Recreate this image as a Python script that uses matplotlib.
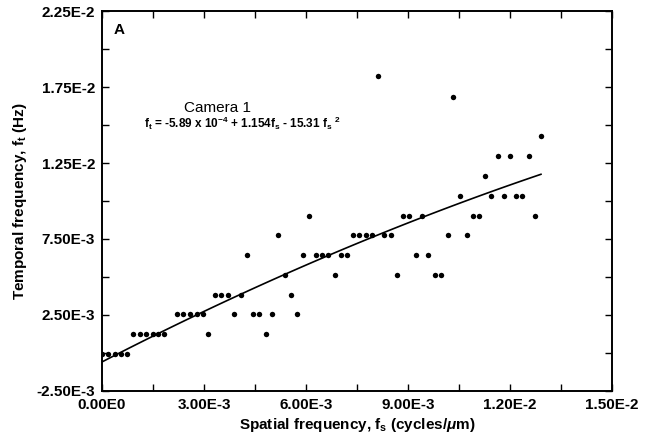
import matplotlib
matplotlib.use('Agg')
import matplotlib.pyplot as plt
import numpy as np

# spatial frequency (cycles/um) and temporal frequency (Hz), Camera 1
fs = np.array([0.00, 0.19, 0.38, 0.55, 0.74, 0.92, 1.12, 1.29, 1.49, 1.66,
               1.83, 2.21, 2.39, 2.59, 2.79, 2.96, 3.13, 3.32, 3.50, 3.70,
               3.89, 4.08, 4.26, 4.43, 4.62, 4.81, 4.99, 5.18, 5.37, 5.55,
               5.73, 5.92, 6.09, 6.29, 6.47, 6.66, 6.84, 7.02, 7.21, 7.39,
               7.57, 7.76, 7.94, 8.11, 8.30, 8.49, 8.67, 8.86, 9.04, 9.23,
               9.41, 9.60, 9.79, 9.97, 10.17, 10.33, 10.54, 10.73, 10.90, 11.09,
               11.27, 11.45, 11.64, 11.82, 12.01, 12.18, 12.36, 12.55, 12.74, 12.91]) * 1e-3
ft = np.array([-0.08, -0.08, -0.08, -0.08, -0.08, 1.22, 1.22, 1.22, 1.22, 1.22,
               1.22, 2.55, 2.55, 2.55, 2.55, 2.55, 1.22, 3.82, 3.82, 3.82,
               2.55, 3.82, 6.45, 2.55, 2.55, 1.22, 2.55, 7.74, 5.10, 3.82,
               2.55, 6.45, 9.03, 6.45, 6.45, 6.45, 5.10, 6.45, 6.45, 7.74,
               7.74, 7.74, 7.74, 18.22, 7.74, 7.74, 5.10, 9.03, 9.03, 6.45,
               9.03, 6.45, 5.10, 5.10, 7.74, 16.86, 10.35, 7.74, 9.03, 9.03,
               11.66, 10.35, 12.96, 10.35, 12.96, 10.35, 10.35, 12.96, 9.03, 14.28]) * 1e-3

# fit coefficients: ft = a + b*fs + c*fs^2
a, b, c = -5.89e-4, 1.154, -15.31
fit_max = 12.91e-3

plt.rcParams['font.family'] = 'Liberation Sans'
plt.rcParams['font.weight'] = 'bold'
plt.rcParams['axes.labelweight'] = 'bold'
plt.rcParams['mathtext.fontset'] = 'custom'
plt.rcParams['mathtext.rm'] = 'Liberation Sans:bold'
plt.rcParams['mathtext.it'] = 'Liberation Sans:italic:bold'
plt.rcParams['mathtext.default'] = 'rm'

fig = plt.figure(figsize=(6.52, 4.37), dpi=100)
ax = fig.add_axes([0.1564, 0.1053, 0.7823, 0.8695])

ax.plot(fs, ft, 'o', color='black', ms=3.9, mew=0)
xf = np.linspace(0, fit_max, 100)
ax.plot(xf, a + b * xf + c * xf ** 2, color='black', lw=1.2)

ax.set_xlim(0, 0.015)
ax.set_ylim(-0.0025, 0.0225)

xt = [0, 0.003, 0.006, 0.009, 0.012, 0.015]
ax.set_xticks(xt)
ax.set_xticklabels(['0.00E0', '3.00E-3', '6.00E-3', '9.00E-3', '1.20E-2', '1.50E-2'])
ax.set_xticks([0.0015, 0.0045, 0.0075, 0.0105, 0.0135], minor=True)
yt = [-0.0025, 0.0025, 0.0075, 0.0125, 0.0175, 0.0225]
ax.set_yticks(yt)
ax.set_yticklabels(['-2.50E-3', '2.50E-3', '7.50E-3', '1.25E-2', '1.75E-2', '2.25E-2'])
ax.set_yticks([0, 0.005, 0.01, 0.015, 0.02], minor=True)

ax.tick_params(which='both', direction='in', length=5, width=1, top=True, right=True,
               labelsize=11, pad=5)
for s in ax.spines.values():
    s.set_linewidth(1.4)

ax.set_xlabel(r'Spatial frequency, f$_s$ (cycles/$\mathit{\mu}$m)', fontsize=11, labelpad=3)
ax.set_ylabel(r'Temporal frequency, f$_t$ (Hz)', fontsize=11, labelpad=5)

ax.text(0.022, 0.95, 'A', transform=ax.transAxes, fontsize=11, ha='left', va='center')
ax.text(0.227, 0.745, 'Camera 1', transform=ax.transAxes, fontsize=11, fontweight='normal',
        ha='center', va='center')
ax.text(0.275, 0.705, r'f$_t$ = -5.89 x 10$^{-4}$ + 1.154f$_s$ - 15.31 f$_s$ $^2$',
        transform=ax.transAxes, fontsize=8.5, ha='center', va='center')

fig.savefig('out.png', dpi=100)
